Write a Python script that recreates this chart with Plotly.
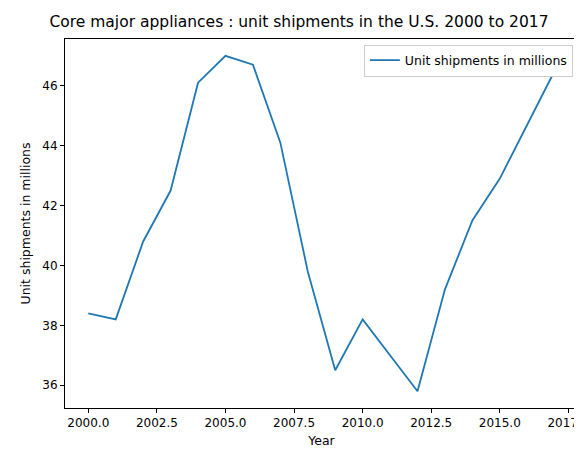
import plotly.graph_objects as go

years = list(range(2000, 2018))
shipments = [38.4, 38.2, 40.8, 42.5, 46.1, 47.0, 46.7, 44.1, 39.8, 36.5, 38.2, 37.0, 35.8, 39.2, 41.5, 42.9, 44.7, 46.5]
xticks = [2000, 2002.5, 2005, 2007.5, 2010, 2012.5, 2015, 2017.5]
xlabels = ["2000.0", "2002.5", "2005.0", "2007.5", "2010.0", "2012.5", "2015.0", "2017.5"]

fig = go.Figure(go.Scatter(x=years, y=shipments, mode="lines", line=dict(color="#1f77b4", width=1.8),
                           name="Unit shipments in millions", showlegend=True))
ax = dict(showgrid=False, zeroline=False, showline=True, linecolor="black", linewidth=1, mirror=True,
          ticks="outside", ticklen=4, tickcolor="black", tickfont=dict(size=12, color="black"),
          automargin=False)
fig.update_layout(
    width=582, height=455, plot_bgcolor="white", paper_bgcolor="white",
    font=dict(family="DejaVu Sans", color="black"),
    margin=dict(l=57, r=12, t=31, b=55, autoexpand=False),
    title=dict(text="Core major appliances : unit shipments in the U.S. 2000 to 2017", x=0.5, xanchor="center",
               y=1 - 8/455, yanchor="top", font=dict(size=15.5)),
    xaxis=dict(ax, range=[2000 - 0.85, 2017 + 0.85], tickvals=xticks, ticktext=xlabels,
               title=dict(text="Year", font=dict(size=12.5), standoff=6)),
    yaxis=dict(ax, range=[35.24, 47.56], tickvals=[36, 38, 40, 42, 44, 46],
               title=dict(text="Unit shipments in millions", font=dict(size=12.5), standoff=8)),
    legend=dict(x=0.99, y=0.985, xanchor="right", yanchor="top", bordercolor="#cccccc", borderwidth=1,
                bgcolor="white", font=dict(size=12.5)),
)
fig.write_html("out.html")
